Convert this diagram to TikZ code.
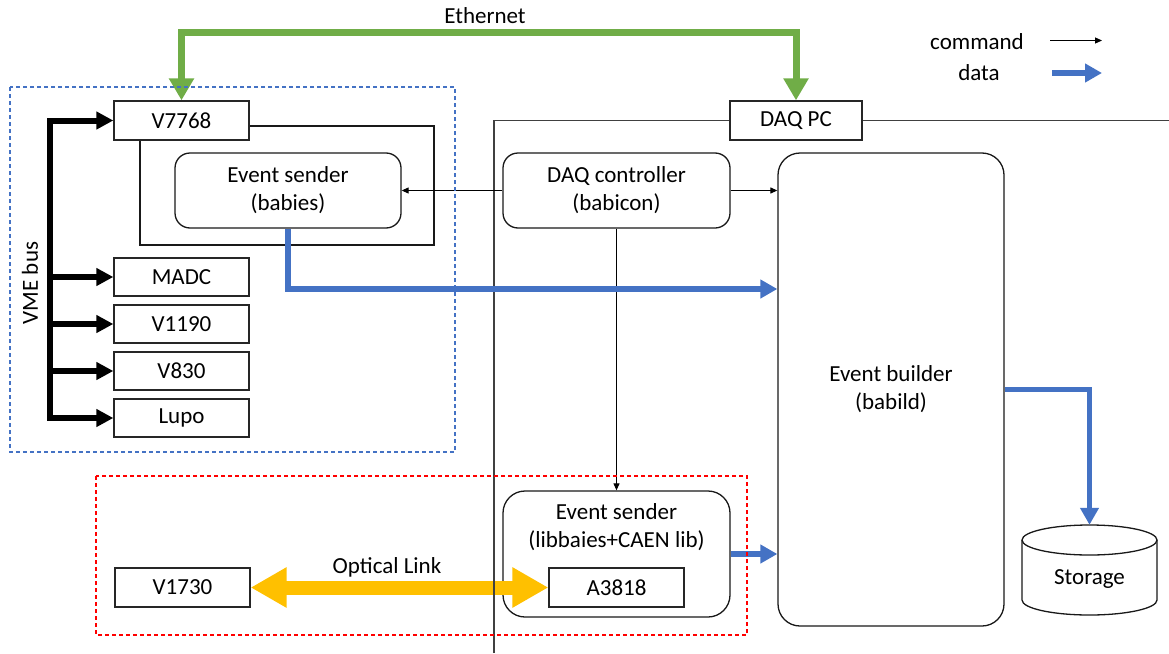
\documentclass[tikz,border=0pt]{standalone}
\usepackage{fontspec}
\setmainfont{Carlito}
\usetikzlibrary{arrows.meta,calc}
\definecolor{egreen}{HTML}{70AD47}
\definecolor{dblue}{HTML}{4472C4}
\definecolor{oyellow}{HTML}{FFC000}
\definecolor{framegray}{HTML}{404040}
\begin{document}
\begin{tikzpicture}[x=1pt,y=-1pt,
  every node/.style={font=\fontsize{23}{28}\selectfont},
  box/.style={draw=black!85,line width=1.3pt,fill=white,minimum width=135pt,minimum height=39pt,inner sep=0pt},
  rbox/.style={draw=black!90,line width=1.3pt,fill=white,rounded corners=15pt,inner sep=0pt,align=center},
  txt/.style={align=center,inner sep=0pt},
  cmd/.style={draw=black,line width=1.1pt,-{Triangle[length=7pt,width=6pt]}},
  dataarrow/.style={draw=dblue,line width=5.5pt,line join=miter,-{Triangle[length=17pt,width=18pt]}},
  busarrow/.style={draw=black,line width=6pt,line join=miter,-{Triangle[length=17pt,width=17pt]}},
  eth/.style={draw=egreen,line width=7pt,line join=miter,{Triangle[length=22pt,width=24pt]}-{Triangle[length=22pt,width=24pt]}},
  optical/.style={draw=oyellow,line width=14pt,{Triangle[length=36pt,width=38pt]}-{Triangle[length=36pt,width=38pt]}},
  frameline/.style={draw=framegray,line width=1.5pt},
  dashbox/.style={line width=1.2pt,dash pattern=on 4pt off 3pt}
]
\useasboundingbox (0,0) rectangle (1169,653);

% inner rectangle around event sender (babies)
\draw[black!90,line width=1.3pt] (140,126) rectangle (434,245);

% VME modules
\node[box] (v7768) at (181.5,120.5) {V7768};
\node[box,minimum height=38pt] (madc) at (181.5,277) {MADC};
\node[box,minimum height=38pt] (v1190) at (181.5,324) {V1190};
\node[box,minimum height=38pt] (v830) at (181.5,371) {V830};
\node[box,minimum height=38pt] (lupo) at (181.5,418) {Lupo};

% event sender babies
\node[rbox,minimum width=226pt,minimum height=75pt] (esb) at (288,190.5) {Event sender\\(babies)};

% DAQ PC frame
\coordinate (pcBL) at (494,653);
\coordinate (pcTR) at (1169,120.5);
\node[box,minimum width=132pt] (daqpc) at (796,120.5) {DAQ PC};
\draw[frameline] (pcBL) |- (daqpc.west);
\draw[frameline] (daqpc.east) -- (pcTR);

\node[rbox,minimum width=227pt,minimum height=75pt] (dc) at (616.5,190.5) {DAQ controller\\(babicon)};
\node[rbox,rounded corners=22pt,minimum width=226pt,minimum height=473pt] (eb) at (891,389.5) {Event builder\\(babild)};
\node[rbox,rounded corners=22pt,minimum width=227pt,minimum height=126pt] (esl) at (616.5,554) {};
\node[txt] (esltext) at (616.5,527) {Event sender\\(libbaies+CAEN lib)};
\node[box] (a3818) at (616.5,587.5) {A3818};
\node[box] (v1730) at (182.5,587.5) {V1730};

% storage cylinder
\node[minimum width=135pt,minimum height=90pt,inner sep=0pt] (st) at (1089.5,570) {};
\draw[black!90,line width=1.3pt,fill=white] (1022,540) -- (1022,600) arc[start angle=180,end angle=360,x radius=67.5pt,y radius=15pt] -- (1157,540);
\draw[black!90,line width=1.3pt,fill=white] (1089.5,540) ellipse[x radius=67.5pt,y radius=15pt];
\node[txt] (sttext) at (1089.5,579) {Storage};

% Ethernet
\coordinate (ethtop) at (485,32.5);
\node[txt] (ethlabel) at (485,16) {Ethernet};
\draw[eth] (v7768.north) |- (ethtop) -| (daqpc.north);

% VME bus
\coordinate (bus) at (49.5,0);
\draw[busarrow] (lupo.west -| bus) |- (v7768.west);
\draw[busarrow] (v7768.west -| bus) |- (lupo.west);
\draw[busarrow] (madc.west -| bus) -- (madc.west);
\draw[busarrow] (v1190.west -| bus) -- (v1190.west);
\draw[busarrow] (v830.west -| bus) -- (v830.west);
\node[txt,rotate=90] (vmelabel) at (30,283) {VME bus};

% optical link
\draw[optical] (v1730.east) -- (a3818.west);
\node[txt] (optlabel) at (387,567) {Optical Link};
% redraw frame vertical over the yellow arrow
\draw[frameline] (494,560) -- (494,616);

% command arrows
\draw[cmd] (dc.west) -- (esb.east);
\draw[cmd] (dc.east) -- (dc.east -| eb.west);
\draw[cmd] (dc.south) -- (esl.north);

% data arrows
\coordinate (d1) at (288,289);
\draw[dataarrow] (esb.south) -- (d1) -- (d1 -| eb.west);
\draw[dataarrow] (esl.east) -- (esl.east -| eb.west);
\draw[dataarrow] (eb.east) -| (st.north);

% dashed group boxes
\draw[dashbox,draw=dblue] (10,87) rectangle (455,452);
\draw[dashbox,draw=red] (96,476) rectangle (747,635);

% legend
\node[txt] (legcmd) at (977,42) {command};
\node[txt] (legdata) at (979,73) {data};
\coordinate (cmdA) at (1050,40.5);
\coordinate (cmdB) at (1102,40.5);
\coordinate (dataA) at (1052,73);
\coordinate (dataB) at (1102,73);
\draw[cmd] (cmdA) -- (cmdB);
\draw[dataarrow] (dataA) -- (dataB);
\end{tikzpicture}
\end{document}
